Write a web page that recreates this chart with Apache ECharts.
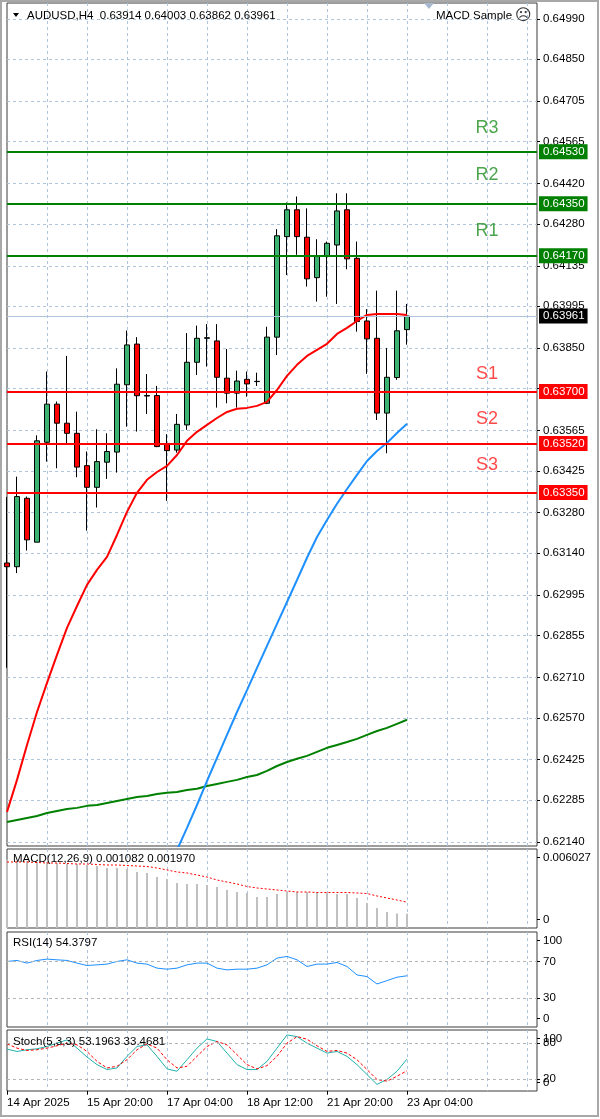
<!DOCTYPE html>
<html><head><meta charset="utf-8">
<script src="https://cdn.jsdelivr.net/npm/echarts@6/dist/echarts.min.js"></script>
<style>html,body{margin:0;padding:0;background:#fff}#c{width:600px;height:1119px}</style>
</head><body><div id="c"></div>
<script>
// ---------------- data ----------------
const symbolTitle = 'AUDUSD,H4';
const ohlcHeader = ['0.63914', '0.64003', '0.63862', '0.63961'];
const expertName = 'MACD Sample';

const opens  = [0.63106,0.63093,0.63330,0.63178,0.63524,0.63656,0.63590,0.63555,0.63443,0.63368,0.63455,0.63490,0.63723,0.63864,0.63686,0.63686,0.63518,0.63497,0.63584,0.63801,0.63884,0.63875,0.63746,0.63694,0.63742,0.63734,0.63659,0.63888,0.64236,0.64329,0.64234,0.64094,0.64167,0.64207,0.64329,0.64161,0.63944,0.63884,0.63625,0.63748,0.63914];
const highs  = [0.63335,0.63405,0.63336,0.63548,0.63769,0.63665,0.63823,0.63630,0.63492,0.63569,0.63555,0.63780,0.63911,0.63888,0.63760,0.63719,0.63552,0.63622,0.63902,0.63928,0.63933,0.63933,0.63847,0.63772,0.63769,0.63765,0.63924,0.64262,0.64354,0.64375,0.64334,0.64227,0.64219,0.64386,0.64386,0.64219,0.63985,0.64049,0.63850,0.64049,0.64003];
const lows   = [0.62743,0.63071,0.63149,0.63178,0.63457,0.63434,0.63521,0.63403,0.63218,0.63298,0.63397,0.63419,0.63578,0.63561,0.63622,0.63507,0.63321,0.63488,0.63567,0.63757,0.63786,0.63644,0.63659,0.63644,0.63682,0.63719,0.63656,0.63826,0.64103,0.64173,0.64063,0.64011,0.64028,0.64003,0.64123,0.63907,0.63761,0.63601,0.63486,0.63740,0.63862];
const closes = [0.63093,0.63336,0.63186,0.63529,0.63656,0.63590,0.63555,0.63438,0.63368,0.63457,0.63492,0.63725,0.63861,0.63685,0.63684,0.63509,0.63495,0.63586,0.63801,0.63884,0.63886,0.63749,0.63694,0.63736,0.63726,0.63735,0.63888,0.64239,0.64329,0.64236,0.64090,0.64167,0.64213,0.64325,0.64159,0.63942,0.63882,0.63625,0.63749,0.63910,0.63961];

const maRed   = [0.62244,0.62355,0.62476,0.62590,0.62691,0.62788,0.62881,0.62957,0.63030,0.63082,0.63127,0.63203,0.63283,0.63349,0.63394,0.63421,0.63442,0.63480,0.63529,0.63560,0.63584,0.63608,0.63629,0.63640,0.63643,0.63650,0.63664,0.63705,0.63754,0.63792,0.63823,0.63844,0.63865,0.63899,0.63920,0.63944,0.63965,0.63968,0.63968,0.63968,0.63965];
const maBlue  = ['-','-','-','-','-','-','-','-','-','-','-','-','-','-','-','-','-',0.62112,0.62189,0.62268,0.62351,0.62431,0.62511,0.62590,0.62666,0.62743,0.62819,0.62895,0.62971,0.63047,0.63124,0.63196,0.63255,0.63311,0.63362,0.63411,0.63459,0.63494,0.63522,0.63556,0.63588];
const maGreen = [0.62209,0.62216,0.62223,0.62230,0.62240,0.62247,0.62254,0.62258,0.62265,0.62268,0.62275,0.62282,0.62289,0.62296,0.62299,0.62306,0.62310,0.62313,0.62320,0.62324,0.62334,0.62341,0.62348,0.62355,0.62365,0.62372,0.62386,0.62403,0.62417,0.62428,0.62438,0.62452,0.62466,0.62476,0.62486,0.62497,0.62511,0.62524,0.62535,0.62549,0.62563];

const macdMain   = [0.005200,0.005112,0.005112,0.005036,0.005036,0.004960,0.004883,0.004883,0.004807,0.004731,0.004578,0.004578,0.004502,0.004273,0.004197,0.003891,0.003739,0.003434,0.003357,0.003357,0.003281,0.003128,0.002899,0.002747,0.002671,0.002365,0.002365,0.002594,0.002747,0.002747,0.002747,0.002747,0.002671,0.002594,0.002594,0.002289,0.001900,0.001526,0.001221,0.001100,0.001082];
const macdSignal = [0.005036,0.005036,0.005036,0.004998,0.004960,0.004960,0.004921,0.004883,0.004883,0.004845,0.004807,0.004807,0.004769,0.004731,0.004692,0.004578,0.004425,0.004273,0.004197,0.004044,0.003891,0.003662,0.003510,0.003357,0.003166,0.003052,0.002976,0.002899,0.002823,0.002747,0.002747,0.002709,0.002709,0.002709,0.002709,0.002671,0.002632,0.002442,0.002289,0.002136,0.001970];
const rsiVals    = [70.0,71.1,68.2,71.1,72.6,71.8,71.1,68.2,65.6,66.3,67.1,70.0,71.8,68.2,67.1,62.7,61.6,62.7,66.3,68.2,68.2,62.7,60.8,61.6,61.6,62.7,66.3,73.7,75.5,71.8,64.5,67.1,67.1,68.9,64.5,55.3,53.5,45.4,49.1,52.8,54.3797];
const stochK     = [70.0,66.1,68.9,70.6,74.4,80.0,85.6,71.7,56.7,43.9,35.6,38.3,57.8,74.4,77.2,57.8,36.7,32.8,52.2,71.7,87.2,82.8,63.3,43.9,35.6,35.6,49.4,71.7,93.9,91.1,80.0,71.7,63.3,66.1,57.8,43.9,27.2,10.6,18.9,32.8,53.1963];
const stochD     = [78.9,71.7,67.8,68.9,71.7,75.6,80.0,77.2,66.1,49.4,38.3,41.1,52.2,68.9,78.9,71.7,52.2,38.3,41.1,57.8,74.4,82.8,77.2,60.6,43.9,36.7,42.2,57.8,80.0,91.1,86.7,75.6,66.1,67.8,63.3,52.2,35.6,18.9,16.1,24.4,33.4681];

const priceTickLabels = ['0.62140','0.62285','0.62425','0.62570','0.62710','0.62855','0.62995','0.63140','0.63280','0.63425','0.63565','0.63710','0.63850','0.63995','0.64135','0.64280','0.64420','0.64565','0.64705','0.64850','0.64990'];
const levelNames  = ['R3','R2','R1','S1','S2','S3'];
const levelPrices = [0.64530,0.64350,0.64170,0.63700,0.63520,0.63350];
const levelTextPrices = [0.64613,0.64450,0.64256,0.63761,0.63605,0.63446];
const lastPrice = 0.63961;

const timeLabelSlots = [0,8,16,24,32,40];
const timeLabelTexts = ['14 Apr 2025','15 Apr 20:00','17 Apr 04:00','18 Apr 12:00','21 Apr 20:00','23 Apr 04:00'];

const macdLabelVals = [0, 0.006027];
const rsiLabelVals = [0, 30, 70, 100];
const rsiLevels = [30, 70];
const stochEdgeLabelVals = [0, 100];
const stochLevels = [20, 80];

// ---------------- layout / style ----------------
const FONT = 'Liberation Sans';
const FS = 11.5;
const SLOTS = 54;
const TEXT_SLOT = 48;
const slotNames = Array.from({length: SLOTS}, (_, i) => String(i));
const GRID_COLOR = '#b0c4de';
const FRAME = '#3a3a3a';

const panels = [
  {top: 3, height: 843},
  {top: 849, height: 79},
  {top: 932, height: 95},
  {top: 1030, height: 61}
];
const grids = panels.map(p => ({left: 7, right: 63, top: p.top, height: p.height, show: true,
  borderColor: FRAME, borderWidth: 1, backgroundColor: '#fff'}));

const vGrid = {show: true, interval: (i) => i > 0 && i % 4 === 0,
  lineStyle: {color: GRID_COLOR, type: [3, 3], width: 1}};
const xAxes = panels.map((p, g) => ({
  type: 'category', gridIndex: g, data: slotNames, boundaryGap: false,
  axisLine: {show: false}, axisTick: {show: false}, axisLabel: {show: false}, splitLine: vGrid
}));
xAxes[3].axisTick = {show: true, interval: (i) => timeLabelSlots.includes(i), length: 4, lineStyle: {color: '#000'}};
xAxes[3].axisLabel = {show: true, interval: (i) => timeLabelSlots.includes(i),
  formatter: (v, i) => timeLabelTexts[timeLabelSlots.indexOf(Number(v))] || '',
  align: 'left', margin: 6, color: '#000', fontSize: FS, fontFamily: FONT};

function edgeLabels(vals, min, max, h, fmt) {
  const upp = (max - min) / h, pad = 8.5 * upp;
  const pos = vals.map(v => Math.min(max - pad, Math.max(min + pad, v)));
  return {pos, formatter: (v) => {
    let b = 0;
    pos.forEach((p, k) => { if (Math.abs(p - v) < Math.abs(pos[b] - v)) b = k; });
    return fmt(vals[b]);
  }};
}
const yLabel = {color: '#000', fontSize: FS, fontFamily: FONT, margin: 6, showMinLabel: true, showMaxLabel: true, hideOverlap: false};
const priceTicks = priceTickLabels.map(Number);
const mainMin = 0.62126, mainMax = 0.65045;
const macdMin = 0, macdMax = 0.006027;
const rsiMin = -1.6, rsiMax = 102.2;
const stMin = -0.5, stMax = 102.2;
const macdL = edgeLabels(macdLabelVals, macdMin, macdMax, panels[1].height, v => v === 0 ? '0' : v.toFixed(6));
const rsiL = edgeLabels(rsiLabelVals, rsiMin, rsiMax, panels[2].height, v => String(v));
const stL = edgeLabels(stochEdgeLabelVals, stMin, stMax, panels[3].height, v => String(v));
const stLevL = edgeLabels(stochLevels, stMin, stMax, panels[3].height, v => String(v));

function subY(g, min, max, L) {
  return {type: 'value', gridIndex: g, position: 'right', min, max,
    axisLine: {show: false},
    axisTick: {show: true, length: 3, customValues: L.pos, lineStyle: {color: '#000'}},
    axisLabel: Object.assign({}, yLabel, {customValues: L.pos, formatter: L.formatter}),
    splitLine: {show: false}};
}
const yAxes = [
  {type: 'value', gridIndex: 0, position: 'right', min: mainMin, max: mainMax,
   axisLine: {show: false},
   axisTick: {show: true, length: 3, customValues: priceTicks, lineStyle: {color: '#000'}},
   axisLabel: Object.assign({}, yLabel, {customValues: priceTicks, formatter: v => v.toFixed(5)}),
   splitLine: {show: true, lineStyle: {color: GRID_COLOR, type: [3, 3], width: 1}}},
  subY(1, macdMin, macdMax, macdL),
  subY(2, rsiMin, rsiMax, rsiL),
  subY(3, stMin, stMax, stL),
  subY(3, stMin, stMax, stLevL)
];

const candles = opens.map((o, i) => [o, closes[i], lows[i], highs[i]]);
const GREEN = '#008000', RED = '#ff0000';
const levelColor = (k) => k < 3 ? GREEN : RED;

const tagLabel = (text, bg) => ({show: true, position: 'end', distance: 2, formatter: () => text,
  color: '#fff', backgroundColor: bg, padding: [2, 3, 1, 4], fontSize: FS, fontFamily: FONT});
const levelLines = [{
  yAxis: lastPrice,
  lineStyle: {color: GRID_COLOR, width: 1, type: 'solid'},
  label: tagLabel(lastPrice.toFixed(5), '#000')
}].concat(levelPrices.map((p, k) => ({
  yAxis: p,
  lineStyle: {color: levelColor(k), width: 2, type: 'solid'},
  label: tagLabel(p.toFixed(5), levelColor(k))
})));

const levelMark = (vals) => ({symbol: ['none', 'none'], silent: true, animation: false, precision: 5,
  label: {show: false}, lineStyle: {color: '#b4b4b4', type: [3, 3], width: 1},
  data: vals.map(v => ({yAxis: v}))});

const option = {
  animation: false,
  backgroundColor: '#fff',
  grid: grids,
  xAxis: xAxes,
  yAxis: yAxes,
  series: [
    {type: 'candlestick', xAxisIndex: 0, yAxisIndex: 0, data: candles, barWidth: 5, z: 2,
     itemStyle: {color: '#3cb371', color0: '#ff0000', borderColor: '#000', borderColor0: '#000', borderWidth: 1}},
    {type: 'line', xAxisIndex: 0, yAxisIndex: 0, data: maGreen, symbol: 'none', z: 3,
     lineStyle: {color: '#008000', width: 2}},
    {type: 'line', xAxisIndex: 0, yAxisIndex: 0, data: maBlue, symbol: 'none', z: 3,
     lineStyle: {color: '#1e90ff', width: 2}},
    {type: 'line', xAxisIndex: 0, yAxisIndex: 0, data: maRed, symbol: 'none', z: 3,
     lineStyle: {color: '#ff0000', width: 2},
     markLine: {symbol: ['none', 'none'], silent: true, animation: false, precision: 5, data: levelLines}},
    {type: 'scatter', xAxisIndex: 0, yAxisIndex: 0, symbolSize: 1, z: 4,
     itemStyle: {color: 'rgba(0,0,0,0)'},
     data: levelNames.map((n, k) => ({name: n, value: [TEXT_SLOT, levelTextPrices[k]],
       label: {color: k < 3 ? '#1f8f1f' : '#ff1a1a'}})),
     label: {show: true, position: 'inside', formatter: p => p.name, fontSize: 18, fontFamily: FONT}},
    {type: 'bar', xAxisIndex: 1, yAxisIndex: 1, data: macdMain, barWidth: 2,
     itemStyle: {color: '#c0c0c0'}},
    {type: 'line', xAxisIndex: 1, yAxisIndex: 1, data: macdSignal, symbol: 'none',
     lineStyle: {color: '#ff0000', width: 1, type: [2, 2]}},
    {type: 'line', xAxisIndex: 2, yAxisIndex: 2, data: rsiVals, symbol: 'none',
     lineStyle: {color: '#1e90ff', width: 1}, markLine: levelMark(rsiLevels)},
    {type: 'line', xAxisIndex: 3, yAxisIndex: 3, data: stochK, symbol: 'none',
     lineStyle: {color: '#20b2aa', width: 1}, markLine: levelMark(stochLevels)},
    {type: 'line', xAxisIndex: 3, yAxisIndex: 3, data: stochD, symbol: 'none',
     lineStyle: {color: '#ff0000', width: 1, type: [3, 2]}}
  ],
  graphic: [
    {type: 'polygon', shape: {points: [[13, 13], [19, 13], [16, 17]]}, style: {fill: '#000'}, z: 50},
    {type: 'text', x: 27, y: 15.5, z: 50, style: {text: symbolTitle + '  ' + ohlcHeader.join(' '),
      fontSize: FS, fontFamily: FONT, fill: '#000', verticalAlign: 'middle'}},
    {type: 'text', x: 436, y: 16, z: 50, style: {text: expertName, fontSize: FS, fontFamily: FONT,
      fill: '#000', verticalAlign: 'middle'}},
    {type: 'text', x: 515, y: 16, z: 50, style: {text: '\u2639', fontSize: 16, fontFamily: 'DejaVu Sans',
      fill: '#333', verticalAlign: 'middle'}},
    {type: 'polygon', shape: {points: [[424, 3], [434, 3], [429, 9]]}, style: {fill: '#a8b8d0'}, z: 50},
    {type: 'text', x: 13, y: 859, z: 50, style: {text: 'MACD(12,26,9) ' + macdMain[macdMain.length - 1].toFixed(6) + ' ' + macdSignal[macdSignal.length - 1].toFixed(6),
      fontSize: FS, fontFamily: FONT, fill: '#000', verticalAlign: 'middle'}},
    {type: 'text', x: 13, y: 943, z: 50, style: {text: 'RSI(14) ' + rsiVals[rsiVals.length - 1].toFixed(4),
      fontSize: FS, fontFamily: FONT, fill: '#000', verticalAlign: 'middle'}},
    {type: 'text', x: 13, y: 1042, z: 50, style: {text: 'Stoch(5,3,3) ' + stochK[stochK.length - 1].toFixed(4) + ' ' + stochD[stochD.length - 1].toFixed(4),
      fontSize: FS, fontFamily: FONT, fill: '#000', verticalAlign: 'middle'}},
    {type: 'rect', shape: {x: 1, y: 1, width: 597, height: 1115}, silent: true, z: 60,
     style: {fill: 'none', stroke: '#a8a8a8', lineWidth: 2}}
  ]
};
const chart = echarts.init(document.getElementById('c'));
chart.setOption(option);
</script>
</body></html>
